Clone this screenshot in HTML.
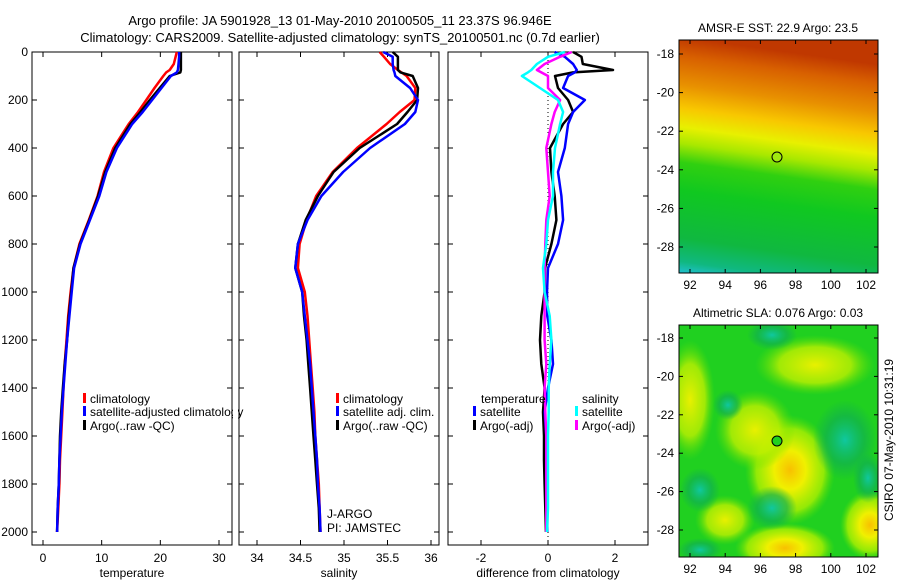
<!DOCTYPE html>
<html><head><meta charset="utf-8"><style>
body{margin:0;background:#fff;}
svg{display:block;font-family:"Liberation Sans",sans-serif;}
text{font-size:12px;fill:#000;}
</style></head><body>
<svg id="fig" width="900" height="580" viewBox="0 0 900 580" xmlns="http://www.w3.org/2000/svg">
<defs>
<clipPath id="clipSla"><rect x="679" y="325" width="199" height="232"/></clipPath>
<linearGradient id="sstg" x1="0.12" y1="0" x2="0" y2="1">
<stop offset="0" stop-color="#c03800"/><stop offset="0.08" stop-color="#d86000"/><stop offset="0.2" stop-color="#e89000"/>
<stop offset="0.3" stop-color="#f8c800"/><stop offset="0.38" stop-color="#e8f000"/><stop offset="0.45" stop-color="#a8e800"/>
<stop offset="0.53" stop-color="#30d010"/><stop offset="0.65" stop-color="#10c820"/><stop offset="0.85" stop-color="#10b840"/><stop offset="0.95" stop-color="#10b880"/><stop offset="1" stop-color="#20c0d0"/>
</linearGradient>
<radialGradient id="yel"><stop offset="0" stop-color="#f8c000"/><stop offset="0.35" stop-color="#f0f000"/><stop offset="0.75" stop-color="#b0f000" stop-opacity="0.8"/><stop offset="1" stop-color="#60e000" stop-opacity="0"/></radialGradient>
<radialGradient id="yel2"><stop offset="0" stop-color="#e8f000"/><stop offset="0.6" stop-color="#c0f000" stop-opacity="0.8"/><stop offset="1" stop-color="#60e000" stop-opacity="0"/></radialGradient>
<radialGradient id="teal"><stop offset="0" stop-color="#10c8a0"/><stop offset="0.6" stop-color="#10b050" stop-opacity="0.7"/><stop offset="1" stop-color="#10b050" stop-opacity="0"/></radialGradient>
</defs>
<text x="340" y="25" text-anchor="middle" style="font-size:13px">Argo profile: JA 5901928_13 01-May-2010 20100505_11 23.37S 96.946E</text>
<text x="340" y="42" text-anchor="middle" style="font-size:13px">Climatology: CARS2009. Satellite-adjusted climatology: synTS_20100501.nc (0.7d earlier)</text>

<g id="maps">
<g>
<rect x="679" y="40" width="199" height="233" fill="url(#sstg)"/>
<rect x="679" y="40" width="199" height="233" fill="none" stroke="#000"/>
<circle cx="777" cy="157" r="5" fill="#a0e810" stroke="#000"/>
<text x="778" y="32" text-anchor="middle">AMSR-E SST: 22.9 Argo: 23.5</text>
</g>
<g>
<g clip-path="url(#clipSla)">
<rect x="679" y="325" width="199" height="232" fill="#20d020"/>
<ellipse cx="790" cy="470" rx="45" ry="55" fill="url(#yel)"/>
<ellipse cx="815" cy="365" rx="60" ry="30" fill="url(#yel2)"/>
<ellipse cx="755" cy="430" rx="40" ry="40" fill="url(#yel2)"/>
<ellipse cx="690" cy="400" rx="25" ry="60" fill="url(#yel2)"/>
<ellipse cx="785" cy="548" rx="50" ry="25" fill="url(#yel)"/>
<ellipse cx="870" cy="525" rx="30" ry="35" fill="url(#yel)"/>
<ellipse cx="725" cy="520" rx="30" ry="25" fill="url(#yel2)"/>
<ellipse cx="772" cy="508" rx="25" ry="22" fill="url(#teal)"/>
<ellipse cx="845" cy="440" rx="32" ry="40" fill="url(#teal)"/>
<ellipse cx="868" cy="478" rx="15" ry="25" fill="url(#teal)"/>
<ellipse cx="700" cy="490" rx="20" ry="22" fill="url(#teal)"/>
<ellipse cx="772" cy="335" rx="25" ry="15" fill="url(#teal)"/>
<ellipse cx="728" cy="405" rx="15" ry="15" fill="url(#teal)"/>
<ellipse cx="700" cy="550" rx="22" ry="12" fill="url(#teal)"/>
</g>
<rect x="679" y="325" width="199" height="232" fill="none" stroke="#000"/>
<circle cx="777" cy="441" r="5" fill="#20d020" stroke="#000"/>
<text x="778" y="317" text-anchor="middle">Altimetric SLA: 0.076 Argo: 0.03</text>
</g>
<text transform="translate(893,440) rotate(-90)" text-anchor="middle">CSIRO 07-May-2010 10:31:19</text>
</g>
</svg>
<script>
const depths=[0,20,50,75,85,100,150,200,250,300,400,500,600,700,800,900,1000,1100,1200,1300,1400,1500,1600,1700,1800,1900,2000];
const tempClim=[22.8,22.6,22.3,21.6,21.0,20.5,19.0,17.6,16.2,14.6,12.0,10.4,9.3,7.8,6.2,5.2,4.7,4.3,4.0,3.7,3.5,3.3,3.1,2.9,2.8,2.6,2.4];
const tempSat=[23.2,23.2,23.1,23.0,22.8,21.8,20.2,18.6,17.0,15.2,12.6,10.8,9.6,8.0,6.4,5.3,4.9,4.5,4.1,3.8,3.5,3.2,3.0,2.8,2.7,2.5,2.4];
const tempArgo=[23.5,23.5,23.5,23.5,23.4,21.6,19.9,18.2,16.6,14.9,12.3,10.6,9.4,7.9,6.3,5.2,4.8,4.4,4.1,3.7,3.4,3.1,2.9,2.8,2.7,2.5,2.4];
const salClim=[35.41,35.46,35.53,35.62,35.66,35.72,35.82,35.81,35.64,35.49,35.15,34.87,34.68,34.57,34.49,34.47,34.55,34.58,34.60,34.62,34.64,34.66,34.67,34.69,34.71,34.72,34.73];
const salSat=[35.45,35.56,35.56,35.57,35.58,35.59,35.76,35.85,35.82,35.70,35.30,34.99,34.74,34.58,34.47,34.44,34.52,34.55,34.58,34.61,34.63,34.65,34.67,34.69,34.70,34.72,34.73];
const salArgo=[35.56,35.62,35.62,35.62,35.65,35.79,35.85,35.84,35.73,35.61,35.18,34.88,34.70,34.56,34.47,34.44,34.52,34.54,34.57,34.59,34.61,34.63,34.65,34.67,34.69,34.71,34.72];
const diffTempSat=[0.2,0.5,0.75,0.86,0.8,0.6,0.45,1.1,0.75,0.6,0.5,0.3,0.4,0.45,0.3,0.0,-0.03,-0.02,0.1,0.15,0.0,-0.1,-0.05,-0.05,-0.05,-0.02,-0.02];
const diffTempArgo=[0.75,1.0,1.04,1.94,0.75,0.21,0.3,0.6,0.75,0.45,0.06,0.1,0.2,0.25,0.1,-0.09,-0.1,-0.2,-0.24,-0.2,-0.1,-0.15,-0.12,-0.12,-0.1,-0.08,-0.06];
const diffSalSat=[0.5,0.0,-0.33,-0.5,-0.6,-0.78,-0.24,0.3,0.45,0.36,0.21,0.15,0.15,0.0,-0.05,-0.15,-0.1,0.05,0.1,0.05,0.02,0.02,0.0,0.0,0.0,0.0,-0.03];
const diffSalArgo=[0.71,0.36,-0.1,-0.33,-0.2,0.0,0.0,0.36,0.2,0.1,-0.05,0.0,0.05,-0.05,-0.08,-0.1,-0.1,-0.1,-0.1,-0.05,-0.1,-0.08,-0.05,-0.05,-0.05,-0.05,-0.05];
const depthTicks=[0,200,400,600,800,1000,1200,1400,1600,1800,2000];
const tempTicks=[0,10,20,30];
const salTicks=[34,34.5,35,35.5,36];
const diffTicks=[-2,0,2];
const lonTicks=[92,94,96,98,100,102];
const latTicks=[-18,-20,-22,-24,-26,-28];

const NS='http://www.w3.org/2000/svg';
const svg=document.getElementById('fig');
function mk(tag,attrs,parent){const e=document.createElementNS(NS,tag);for(const k in attrs)e.setAttribute(k,attrs[k]);(parent||svg).appendChild(e);return e;}
const Y0=52,Y1=545;
function yD(d){return 52+d*0.24;}
function lin(d0,d1,p0,p1){return v=>p0+(v-d0)*(p1-p0)/(d1-d0);}

const panels=[
 {name:'temperature',x0:32,x1:232,sx:lin(0,30,43,219),ticks:tempTicks,label:'temperature',yl:true},
 {name:'salinity',x0:239,x1:439,sx:lin(34,36,257,431),ticks:salTicks,label:'salinity'},
 {name:'difference',x0:448,x1:648,sx:lin(-2,2,481,615),ticks:diffTicks,label:'difference from climatology'}
];
panels.forEach(p=>{
 const g=mk('g',{});
 
 
 const fr=mk('rect',{x:p.x0,y:Y0,width:p.x1-p.x0,height:Y1-Y0,fill:'none',stroke:'#000','stroke-width':1},g);
 
 
 p.ticks.forEach(t=>{
  const x=p.sx(t);
  mk('line',{x1:x,x2:x,y1:Y1,y2:Y1-5,stroke:'#000'},g);
  mk('line',{x1:x,x2:x,y1:Y0,y2:Y0+5,stroke:'#000'},g);
  const tx=mk('text',{x:x,y:Y1+17,'text-anchor':'middle'},g);
  tx.textContent=String(t);
  
  
 });
 depthTicks.forEach(d=>{
  const y=yD(d);
  mk('line',{x1:p.x0,x2:p.x0+5,y1:y,y2:y,stroke:'#000'},g);
  mk('line',{x1:p.x1,x2:p.x1-5,y1:y,y2:y,stroke:'#000'},g);
  if(p.yl){const tx=mk('text',{x:p.x0-4,y:y+4,'text-anchor':'end'},g);tx.textContent=String(d);
   
   }
 });
 const xl=mk('text',{x:(p.x0+p.x1)/2,y:577,'text-anchor':'middle'},g);
 xl.textContent=p.label;
 
 
});
function line(p,vals,color,name,w){
 const pts=vals.map((v,i)=>p.sx(v).toFixed(1)+','+yD(depths[i]).toFixed(1)).join(' ');
 const e=mk('polyline',{points:pts,fill:'none',stroke:color,'stroke-width':w||2.5,'stroke-linejoin':'round'});
 
 
}
const zl=mk('line',{x1:panels[2].sx(0),x2:panels[2].sx(0),y1:Y0,y2:Y1,stroke:'#000','stroke-dasharray':'1,3'});


line(panels[0],tempClim,'#f00','temp-climatology-line');
line(panels[0],tempArgo,'#000','temp-argo-line');
line(panels[0],tempSat,'#00f','temp-satellite-line');
line(panels[1],salClim,'#f00','sal-climatology-line');
line(panels[1],salArgo,'#000','sal-argo-line');
line(panels[1],salSat,'#00f','sal-satellite-line');
line(panels[2],diffTempArgo,'#000','diff-temp-argo-line');
line(panels[2],diffTempSat,'#00f','diff-temp-satellite-line');
line(panels[2],diffSalArgo,'#f0f','diff-sal-argo-line');
line(panels[2],diffSalSat,'#0ff','diff-sal-satellite-line');

function legendItem(x,y,color,label,name){
 const g=mk('g',{});
 
 
 if(color)mk('rect',{x:x,y:y-10,width:3,height:10,fill:color},g);
 const t=mk('text',{x:x+7,y:y},g);t.textContent=label;
}
legendItem(83,403,'#f00','climatology','legend-climatology');
legendItem(83,416,'#00f','satellite-adjusted climatology','legend-satellite-adjusted');
legendItem(83,430,'#000','Argo(..raw -QC)','legend-argo');
legendItem(336,403,'#f00','climatology','legend-sal-climatology');
legendItem(336,416,'#00f','satellite adj. clim.','legend-sal-satellite');
legendItem(336,430,'#000','Argo(..raw -QC)','legend-sal-argo');
legendItem(474,403,null,'temperature','legend-temperature-header');
legendItem(473,416,'#00f','satellite','legend-diff-temp-satellite');
legendItem(473,430,'#000','Argo(-adj)','legend-diff-temp-argo');
legendItem(575,403,null,'salinity','legend-salinity-header');
legendItem(575,416,'#0ff','satellite','legend-diff-sal-satellite');
legendItem(575,430,'#f0f','Argo(-adj)','legend-diff-sal-argo');
mk('rect',{x:233,y:400,width:5,height:20,fill:'#fff'});
const t1=mk('text',{x:327,y:518});t1.textContent='J-ARGO';


const t2=mk('text',{x:327,y:532});t2.textContent='PI: JAMSTEC';



[{name:'sst',top:40,bot:273,ly:lin(-18,-28,54,247)},{name:'sla',top:325,bot:557,ly:lin(-18,-28,338,530)}].forEach(m=>{
 const lx=lin(92,102,690,866);
 lonTicks.forEach(v=>{
  const x=lx(v);
  mk('line',{x1:x,x2:x,y1:m.bot,y2:m.bot-4,stroke:'#000'});
  mk('line',{x1:x,x2:x,y1:m.top,y2:m.top+4,stroke:'#000'});
  const t=mk('text',{x:x,y:m.bot+16,'text-anchor':'middle'});t.textContent=String(v);
  
  
 });
 latTicks.forEach(v=>{
  const y=m.ly(v);
  mk('line',{x1:679,x2:683,y1:y,y2:y,stroke:'#000'});
  mk('line',{x1:878,x2:874,y1:y,y2:y,stroke:'#000'});
  const t=mk('text',{x:674,y:y+4,'text-anchor':'end'});t.textContent=String(v);
  
  
 });
});
</script>
</body></html>
